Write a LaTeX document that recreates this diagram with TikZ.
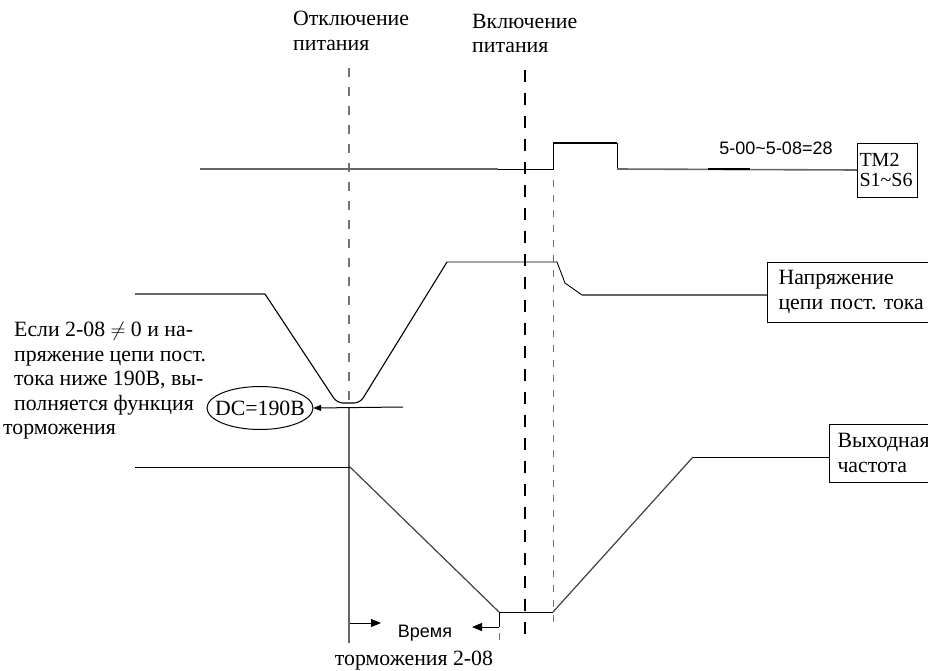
\documentclass[tikz,border=0pt]{standalone}
\usepackage{fontspec}
\setmainfont{Liberation Serif}
\setsansfont{Liberation Sans}
\frenchspacing
\usetikzlibrary{arrows.meta,shapes.geometric}
\tikzset{
  sig/.style={draw=black!60, line width=1.6pt},
  thin/.style={draw=black, line width=0.9pt},
  thick/.style={draw=black, line width=2.2pt},
  dashA/.style={draw=black!55, line width=1.4pt, dash pattern=on 9pt off 10pt},
  dashB/.style={draw=black, line width=1.3pt, dash pattern=on 12pt off 11pt},
  dashC/.style={draw=black!55, line width=0.9pt, dash pattern=on 7pt off 8pt},
  lbl/.style={font=\fontsize{21.8}{24.5}\selectfont, inner sep=0pt, align=left},
  sbox/.style={draw=black, line width=1pt, font=\fontsize{21.8}{24.5}\selectfont, align=left, anchor=west},
  tip/.style={-{Triangle[length=10pt,width=8pt]}, draw=black, line width=1pt}
}
\begin{document}
\begin{tikzpicture}[x=1pt,y=-1pt]
\useasboundingbox (0,0) rectangle (928,670);
% vertical guide lines
\draw[dashA] (349,68) -- (349,408);
\draw[sig, line width=1.4pt] (349,408) -- (349,643);
\draw[dashB] (525,70) -- (525,645);
\draw[dashC] (553,180) -- (553,627);
\draw[dashC] (499,633) -- (499,645);
% top labels
\node[lbl, anchor=north west] (off) at (293,11) {Отключение\\питания};
\node[lbl, anchor=north west] (on) at (472,14) {Включение\\питания};
% TM2 signal
\node[draw=black, line width=1pt, font=\fontsize{20}{20}\selectfont, align=left, inner xsep=2pt, inner ysep=3pt, text width=56pt, minimum height=54pt, anchor=west] (tm) at (857,170) {TM2\\S1\textasciitilde S6};
\coordinate (t0) at (200,169);
\coordinate (t1) at (498,169);
\coordinate (t2) at (553,169);
\coordinate (t3) at (553,143);
\coordinate (t4) at (617,143);
\coordinate (t5) at (617,169);
\draw[sig] (t0) -- (t1);
\draw[thin] (t1) -- (t2) -- (t3);
\draw[thick] (t3) -- (t4);
\draw[thin] (t4) -- (t5);
\draw[sig] (t5) -- (tm.west);
\draw[thick, line width=2pt] (708,169) -- (750,169);
\node[font=\sffamily\fontsize{18}{20}\selectfont, inner sep=0pt] (code) at (776,148) {5-00\textasciitilde 5-08=28};
% DC bus voltage
\node[sbox, inner xsep=11pt, minimum height=60pt, text width=170pt] (dc) at (767,292) {Напряжение\\цепи пост. тока};
\coordinate (d0) at (135,294);
\coordinate (d1) at (265,294);
\coordinate (d2) at (337,403);
\coordinate (d3) at (360,403);
\coordinate (d4) at (447,262);
\coordinate (d5) at (557,262);
\coordinate (d6) at (565,283);
\coordinate (d7) at (582,295);
\draw[sig] (d0) -- (d1);
\draw[thin, line width=1.1pt, rounded corners=6pt] (d1) -- (d2) -- (d3) -- (d4);
\draw[thin] (d4) -- (d5) -- (d6) -- (d7);
\draw[sig] (d7) -- (dc.west |- d7);
% DC=190V ellipse
\node[font=\fontsize{21.8}{24}\selectfont, inner sep=0pt, minimum width=106pt, minimum height=43pt] (el) at (260,408) {DC=190В};
\draw[line width=1pt] (el.center) ellipse [x radius=53pt, y radius=21.5pt];
\coordinate (a0) at (403,407);
\draw[tip, -{Triangle[length=8pt,width=6pt]}] (a0) -- (el.east);
% left note
\node[lbl, anchor=north west] (note) at (14,322) {Если 2-08 $\neq$ 0 и на-\\пряжение цепи пост.\\тока ниже 190В, вы-\\полняется функция\\\hspace*{-11pt}торможения};
% output frequency
\node[sbox, inner xsep=8pt, minimum height=58pt, text width=110pt] (fq) at (829,453) {Выходная\\частота};
\coordinate (f0) at (135,467);
\coordinate (f1) at (350,467);
\coordinate (f2) at (499,612);
\coordinate (f3) at (553,612);
\coordinate (f4) at (693,457);
\draw[thin] (f0) -- (f1);
\draw[thin, draw=black!75, line width=1.2pt] (f1) -- (f2);
\draw[thin] (f2) -- (f3);
\draw[thin, draw=black!75, line width=1.2pt] (f3) -- (f4);
\draw[thin] (f4) -- (fq.west |- f4);
% braking time
\coordinate (b0) at (350,623);
\coordinate (b1) at (381,623);
\draw[tip] (b0) -- (b1);
\coordinate (c0) at (499,627);
\coordinate (c1) at (472,627);
\draw[thin] (f2) -- (c0);
\draw[tip] (c0) -- (c1);
\node[font=\sffamily\fontsize{18}{20}\selectfont, inner sep=0pt] (bt) at (425,633) {Время};
\node[lbl] (bt2) at (414,661) {торможения 2-08};
\end{tikzpicture}
\end{document}
